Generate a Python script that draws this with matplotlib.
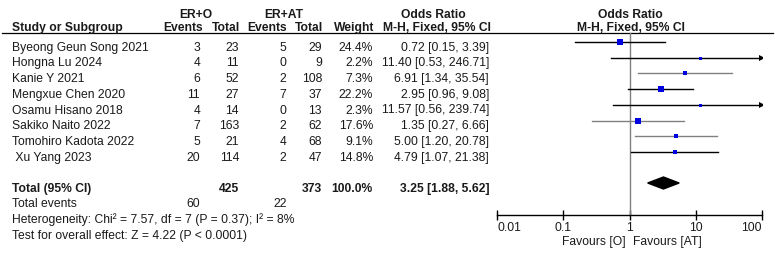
import matplotlib
matplotlib.use("Agg")
import matplotlib.pyplot as plt
from matplotlib.patches import Polygon
import numpy as np

plt.rcParams['font.family'] = ['Liberation Sans', 'DejaVu Sans']

studies = ["Byeong Geun Song 2021", "Hongna Lu 2024", "Kanie Y 2021", "Mengxue Chen 2020",
           "Osamu Hisano 2018", "Sakiko Naito 2022", "Tomohiro Kadota 2022", " Xu Yang 2023"]
ev_o = [3, 4, 6, 11, 4, 7, 5, 20]
tot_o = [23, 11, 52, 27, 14, 163, 21, 114]
ev_at = [5, 0, 2, 7, 0, 2, 4, 2]
tot_at = [29, 9, 108, 37, 13, 62, 68, 47]
weight = [24.4, 2.2, 7.3, 22.2, 2.3, 17.6, 9.1, 14.8]
odds = [0.72, 11.40, 6.91, 2.95, 11.57, 1.35, 5.00, 4.79]
ci_lo = [0.15, 0.53, 1.34, 0.96, 0.56, 0.27, 1.20, 1.07]
ci_hi = [3.39, 246.71, 35.54, 9.08, 239.74, 6.66, 20.78, 21.38]
line_col = ['black', 'black', 'gray', 'black', 'black', 'gray', 'gray', 'black']
total_o, total_at = 425, 373
total_ev_o, total_ev_at = 60, 22
total_weight = "100.0%"
pooled, pooled_lo, pooled_hi = 3.25, 1.88, 5.62
het_text = "Heterogeneity: Chi² = 7.57, df = 7 (P = 0.37); I² = 8%"
test_text = "Test for overall effect: Z = 4.22 (P < 0.0001)"
xticks = [0.01, 0.1, 1, 10, 100]
xticklabels = ["0.01", "0.1", "1", "10", "100"]

W, H = 775, 256
fig = plt.figure(figsize=(W / 100, H / 100), dpi=100)
ax = fig.add_axes([0, 0, 1, 1])
ax.set_xlim(0, W)
ax.set_ylim(H, 0)
ax.axis('off')

fs = 8.7
tc = '#1a1a1a'

# headers
ax.text(196, 18, "ER+O", ha='center', va='baseline', fontsize=fs, fontweight='bold', color=tc)
ax.text(284, 18, "ER+AT", ha='center', va='baseline', fontsize=fs, fontweight='bold', color=tc)
ax.text(433, 18, "Odds Ratio", ha='center', va='baseline', fontsize=fs, fontweight='bold', color=tc)
ax.text(630, 18, "Odds Ratio", ha='center', va='baseline', fontsize=fs, fontweight='bold', color=tc)
ax.text(12, 31, "Study or Subgroup", ha='left', va='baseline', fontsize=fs, fontweight='bold', color=tc)
for x, s in [(203, "Events"), (240, "Total"), (287, "Events"), (323, "Total"), (374, "Weight"),
             (491, "M-H, Fixed, 95% CI")]:
    ax.text(x, 31, s, ha='right', va='baseline', fontsize=fs, fontweight='bold', color=tc)
ax.text(631, 31, "M-H, Fixed, 95% CI", ha='center', va='baseline', fontsize=fs, fontweight='bold', color=tc)
ax.plot([2, 773], [33.3, 33.3], color='black', lw=0.9)

step = 15.7
for i in range(len(studies)):
    yb = 50.7 + i * step
    ax.text(12, yb, studies[i], ha='left', va='baseline', fontsize=fs, color=tc)
    ax.text(200, yb, str(ev_o[i]), ha='right', va='baseline', fontsize=fs, color=tc)
    ax.text(239, yb, str(tot_o[i]), ha='right', va='baseline', fontsize=fs, color=tc)
    ax.text(286.5, yb, str(ev_at[i]), ha='right', va='baseline', fontsize=fs, color=tc)
    ax.text(322, yb, str(tot_at[i]), ha='right', va='baseline', fontsize=fs, color=tc)
    ax.text(373, yb, f"{weight[i]:.1f}%", ha='right', va='baseline', fontsize=fs, color=tc)
    ax.text(489, yb, f"{odds[i]:.2f} [{ci_lo[i]:.2f}, {ci_hi[i]:.2f}]", ha='right', va='baseline',
            fontsize=fs, color=tc)

yt = 191.7
ax.text(12, yt, "Total (95% CI)", ha='left', va='baseline', fontsize=fs, fontweight='bold', color=tc)
ax.text(239, yt, str(total_o), ha='right', va='baseline', fontsize=fs, fontweight='bold', color=tc)
ax.text(322, yt, str(total_at), ha='right', va='baseline', fontsize=fs, fontweight='bold', color=tc)
ax.text(373, yt, total_weight, ha='right', va='baseline', fontsize=fs, fontweight='bold', color=tc)
ax.text(489, yt, f"{pooled:.2f} [{pooled_lo:.2f}, {pooled_hi:.2f}]", ha='right', va='baseline',
        fontsize=fs, fontweight='bold', color=tc)
ax.text(12, 207.3, "Total events", ha='left', va='baseline', fontsize=fs, color=tc)
ax.text(200, 207.3, str(total_ev_o), ha='right', va='baseline', fontsize=fs, color=tc)
ax.text(286.5, 207.3, str(total_ev_at), ha='right', va='baseline', fontsize=fs, color=tc)
ax.text(12, 223.3, het_text, ha='left', va='baseline', fontsize=fs, color=tc)
ax.text(12, 238.5, test_text, ha='left', va='baseline', fontsize=fs, color=tc)

# forest panel
fx0, fx1 = 497, 762
fa = fig.add_axes([fx0 / W, 0, (fx1 - fx0) / W, 1])
fa.set_xscale('log')
fa.set_xlim(0.01, 100)
fa.set_ylim(H, 0)
fa.patch.set_alpha(0)
for s in ['top', 'left', 'right']:
    fa.spines[s].set_visible(False)
fa.spines['bottom'].set_position(('data', 214.5))
fa.spines['bottom'].set_linewidth(1.0)
fa.set_yticks([])
fa.set_xticks(xticks)
fa.set_xticklabels(xticklabels, fontsize=fs, color=tc)
fa.xaxis.set_minor_locator(matplotlib.ticker.NullLocator())
fa.tick_params(axis='x', direction='inout', length=7, width=1.0, pad=2)
labs = fa.get_xticklabels()
labs[0].set_ha('left')
labs[-1].set_ha('right')

fa.plot([1, 1], [33.3, 214.5], color='gray', lw=1.0)
for i in range(len(studies)):
    ym = 42 + i * step
    hi = min(ci_hi[i], 100)
    fa.plot([ci_lo[i], hi], [ym, ym], color=line_col[i], lw=1.0)
    if ci_hi[i] > 100:
        fa.plot([100], [ym], marker='>', color='black', markersize=5, markeredgewidth=0)
    side = max(1.25 * np.sqrt(weight[i]), 3.0) * 0.72
    fa.plot([odds[i]], [ym], marker='s', color='#0000e0', markersize=side, markeredgewidth=0, zorder=3)

yd = 183
fa.add_patch(Polygon([[pooled_lo, yd], [pooled, yd - 6], [pooled_hi, yd], [pooled, yd + 6]],
                     closed=True, color='black'))
fa.text(0.88, 245, "Favours [O]", ha='right', va='baseline', fontsize=fs, color=tc)
fa.text(1.14, 245, "Favours [AT]", ha='left', va='baseline', fontsize=fs, color=tc)

fig.savefig("out.png", dpi=100)
